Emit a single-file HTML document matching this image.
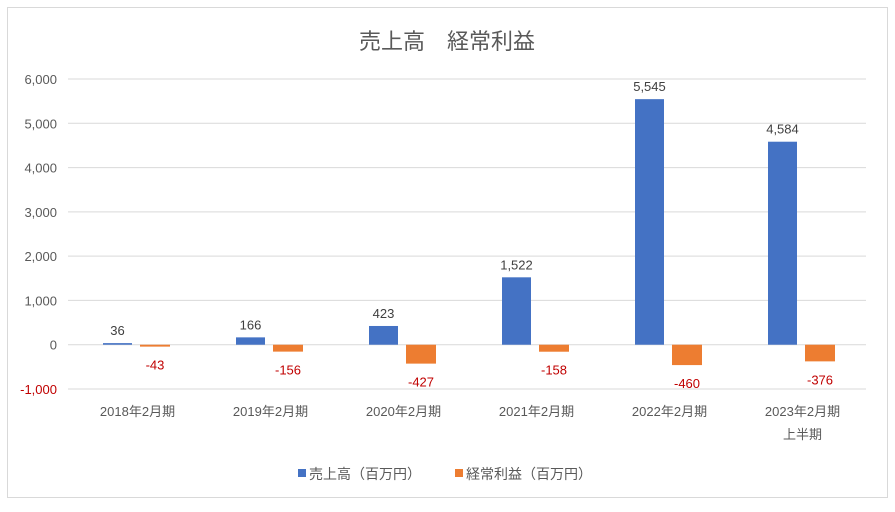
<!DOCTYPE html>
<html><head><meta charset="utf-8"><style>
body{margin:0;background:#fff;}
svg{font-family:"Liberation Sans","Noto Sans CJK JP",sans-serif;}
</style></head><body>
<svg id="chart" width="895" height="507" xmlns="http://www.w3.org/2000/svg">
<rect x="7.5" y="7.5" width="880" height="490" fill="#fff" stroke="#d9d9d9"/>
<text x="447" y="49" text-anchor="middle" font-size="22" fill="#595959">売上高　経常利益</text>
<g id="grid"></g><g id="bars"></g><g id="labels"></g>
<g>
<rect x="298" y="469" width="8" height="8" fill="#4472c4"/>
<text x="309" y="479" font-size="14" fill="#595959">売上高（百万円）</text>
<rect x="455" y="469" width="8" height="8" fill="#ed7d31"/>
<text x="466" y="479" font-size="14" fill="#595959">経常利益（百万円）</text>
</g>
</svg>
<script>
const categories=["2018年2月期","2019年2月期","2020年2月期","2021年2月期","2022年2月期","2023年2月期|上半期"];
const sales=[36,166,423,1522,5545,4584];
const profit=[-43,-156,-427,-158,-460,-376];
const ticks=[-1000,0,1000,2000,3000,4000,5000,6000];
const NS="http://www.w3.org/2000/svg";
const left=68,catW=133,yMin=-1000,yMax=6000,yTop=79,yBot=389;
const y=v=>yBot-(v-yMin)/(yMax-yMin)*(yBot-yTop);
const fmt=v=>v.toLocaleString('en-US');
function mk(tag,attrs,parent,txt){const e=document.createElementNS(NS,tag);for(const k in attrs)e.setAttribute(k,attrs[k]);if(txt!==undefined)e.textContent=txt;document.getElementById(parent).appendChild(e);return e;}
ticks.forEach(t=>{
 const l=mk('line',{x1:left,x2:left+catW*6,y1:y(t),y2:y(t),stroke:'#d9d9d9'},'grid');
 
 
 const tx=mk('text',{x:57,y:y(t)+5,'text-anchor':'end','font-size':13,fill:t<0?'#c00000':'#595959'},'grid',fmt(t));
 
 
});
categories.forEach((c,i)=>{
 const x0=left+catW*i;
 const bs=mk('rect',{x:x0+35,y:Math.min(y(sales[i]),y(0)),width:29,height:Math.abs(y(sales[i])-y(0)),fill:'#4472c4'},'bars');
 
 
 const bp=mk('rect',{x:x0+72,y:Math.min(y(profit[i]),y(0)),width:30,height:Math.abs(y(profit[i])-y(0)),fill:'#ed7d31'},'bars');
 
 
 const ls=mk('text',{x:x0+49.5,y:(sales[i]>=0?y(sales[i])-8:y(sales[i])+18),'text-anchor':'middle','font-size':13,fill:sales[i]<0?'#c00000':'#404040'},'labels',fmt(sales[i]));
 
 
 const lp=mk('text',{x:x0+87,y:(profit[i]>=0?y(profit[i])-8:y(profit[i])+23),'text-anchor':'middle','font-size':13,fill:profit[i]<0?'#c00000':'#404040'},'labels',fmt(profit[i]));
 
 
 c.split('|').forEach((part,j)=>{
  const ct=mk('text',{x:x0+catW/2+3,y:416+j*23,'text-anchor':'middle','font-size':13,fill:'#595959'},'labels',part);
  
  
 });
});
</script>
</body></html>
